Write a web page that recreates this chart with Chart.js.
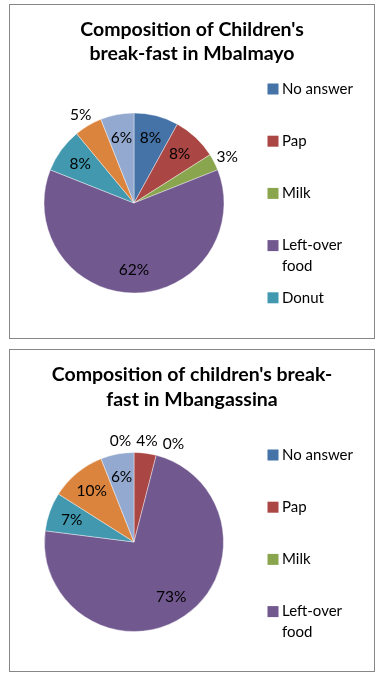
<!DOCTYPE html>
<html>
<head>
<meta charset="utf-8">
<script src="https://cdn.jsdelivr.net/npm/chart.js@4.4.1/dist/chart.umd.min.js"></script>
<style>
  body { margin: 0; background: #fff; }
  .box { position: absolute; left: 9px; width: 364px; border: 1px solid #878787; }
  #box1 { top: 4px; height: 333px; }
  #box2 { top: 349px; height: 321px; }
  canvas { display: block; }
</style>
</head>
<body>
<div class="box" id="box1"><canvas id="c1" width="364" height="333"></canvas></div>
<div class="box" id="box2"><canvas id="c2" width="364" height="321"></canvas></div>
<script>
// categories in clockwise order from 12 o'clock; the last two are cut off the legend
const categories = ['No answer', 'Pap', 'Milk', 'Left-over food', 'Donut', 'Bread', 'Other']
const mbalmayo = [8, 8, 3, 62, 8, 5, 6]
const mbangassina = [0, 4, 0, 73, 7, 10, 6]
const titleMbalmayo = ["Composition of Children's", 'break-fast in Mbalmayo']
const titleMbangassina = ["Composition of children's break-", 'fast in Mbangassina']
const colors = ['#4572a7', '#aa4643', '#89a54e', '#71588f', '#4198af', '#db843d', '#93a9cf']

const FONT = 'Lato, "Open Sans", sans-serif'

// title, legend on the right (Excel cuts it off), and percent labels
const excelLook = {
  id: 'excelLook',
  afterDatasetsDraw(chart, args, opts) {
    const ctx = chart.ctx
    const w = chart.width
    ctx.save()
    ctx.fillStyle = '#000'

    // title
    ctx.font = 'bold 19.5px ' + FONT
    ctx.textAlign = 'center'
    ctx.textBaseline = 'middle'
    opts.title.forEach((line, i) => ctx.fillText(line, w / 2, opts.titleY + i * opts.titleStep))

    // legend
    ctx.font = '15px ' + FONT
    ctx.textAlign = 'left'
    const labels = chart.data.labels
    const ds = chart.data.datasets[0]
    for (let i = 0; i < opts.legendCount; i++) {
      const y = opts.legendY + i * 52.2
      ctx.fillStyle = ds.backgroundColor[i]
      ctx.fillRect(257.5, y - 5.5, 11, 11)
      ctx.fillStyle = '#000'
      const words = labels[i].split(' ')
      const lines = []
      let cur = ''
      for (const word of words) {
        const test = cur ? cur + ' ' + word : word
        if (cur && ctx.measureText(test).width > 84) {
          lines.push(cur)
          cur = word
        } else cur = test
      }
      lines.push(cur)
      lines.forEach((l, k) => ctx.fillText(l, 272, y + k * 20.5))
    }

    // percent labels
    ctx.font = '15.5px ' + FONT
    const meta = chart.getDatasetMeta(0)
    const boxes = []
    meta.data.forEach((arc, i) => {
      const p = arc.getProps(['x', 'y', 'startAngle', 'endAngle', 'outerRadius'], true)
      const mid = (p.startAngle + p.endAngle) / 2
      const text = ds.data[i] + '%'
      const tw = ctx.measureText(text).width
      const th = 16
      const c = Math.cos(mid)
      const s = Math.sin(mid)
      if (ds.data[i] < 5.5) {
        const r = p.outerRadius + 4
        boxes.push({ text, w: tw, h: th, x: p.x + c * r + c * tw / 2, y: p.y + s * r + s * th / 2, out: true })
      } else {
        const r = p.outerRadius * 0.74
        boxes.push({ text, w: tw, h: th, x: p.x + c * r, y: p.y + s * r, out: false })
      }
    })
    // push overlapping outside labels apart sideways
    const outside = boxes.filter((b) => b.out)
    for (let it = 0; it < 20; it++) {
      for (let a = 0; a < outside.length; a++) {
        for (let b = a + 1; b < outside.length; b++) {
          const A = outside[a]
          const B = outside[b]
          const need = (A.w + B.w) / 2 + 5
          const dx = B.x - A.x
          if (Math.abs(dx) < need && Math.abs(B.y - A.y) < (A.h + B.h) / 2) {
            const push = (need - Math.abs(dx)) / 2
            const dir = dx >= 0 ? 1 : -1
            A.x -= dir * push
            B.x += dir * push
          }
        }
      }
    }
    ctx.textAlign = 'center'
    ctx.fillStyle = '#000'
    boxes.forEach((b) => ctx.fillText(b.text, b.x, b.y))
    ctx.restore()
  },
}

function pie(id, values, title, pad, titleY, titleStep, legendY, legendCount) {
  return new Chart(document.getElementById(id), {
    type: 'pie',
    data: {
      labels: categories,
      datasets: [
        {
          data: values,
          backgroundColor: colors,
          borderColor: 'rgba(255,255,255,0.4)',
          borderWidth: 1,
        },
      ],
    },
    options: {
      responsive: false,
      animation: false,
      layout: { padding: pad },
      plugins: {
        legend: { display: false },
        tooltip: { enabled: false },
        excelLook: { title, titleY, titleStep, legendY, legendCount },
      },
    },
    plugins: [excelLook],
  })
}

pie('c1', mbalmayo, titleMbalmayo, { left: 33.5, right: 149.5, top: 107.5, bottom: 44.5 }, 25, 23.5, 84, 5)
pie('c2', mbangassina, titleMbangassina, { left: 34, right: 150, top: 102, bottom: 39 }, 25, 25, 105, 4)
</script>
</body>
</html>
